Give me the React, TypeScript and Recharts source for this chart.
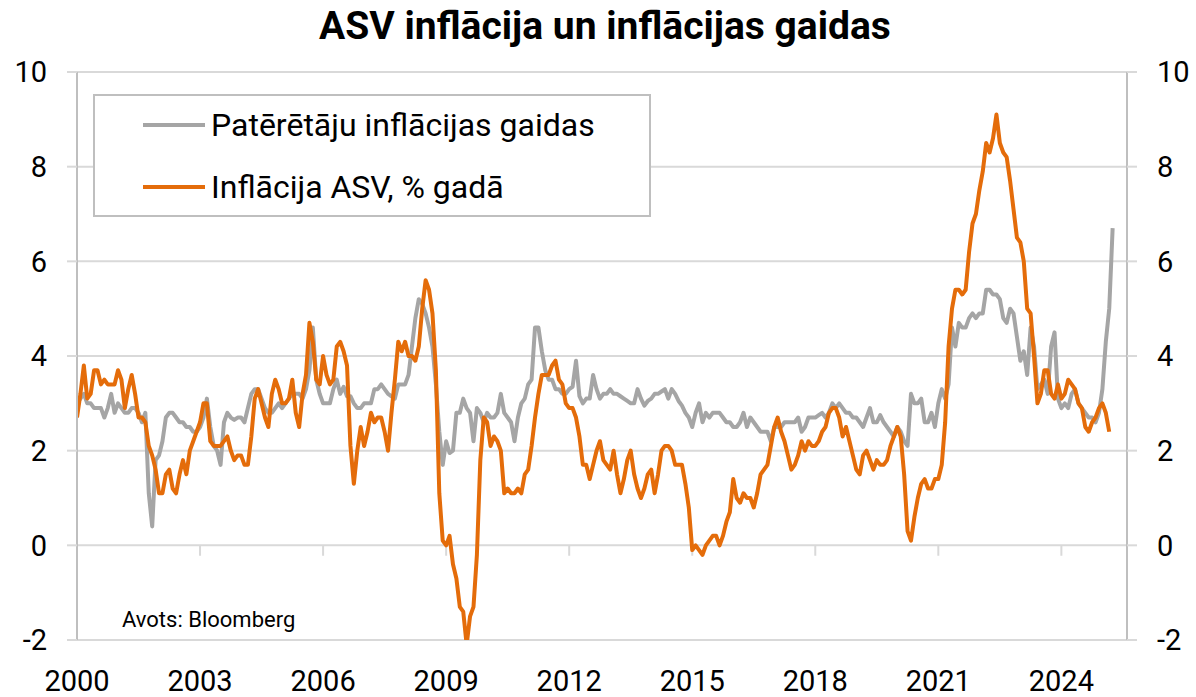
import React from "react"
import { LineChart, Line, XAxis, YAxis, CartesianGrid, ReferenceLine } from "recharts"

// monthly, starting Jan 2000
const START_YEAR = 2000

// Patērētāju inflācijas gaidas (1 gads), %
const expectations = [
  3.0, 3.1, 3.2, 3.0, 3.0, 2.9, 2.9, 2.9, 2.7, 2.9, 3.2, 2.8, // 2000
  3.0, 2.9, 2.8, 2.8, 2.9, 2.9, 2.8, 2.6, 2.8, 1.1, 0.4, 1.8, // 2001
  1.9, 2.2, 2.7, 2.8, 2.8, 2.7, 2.6, 2.6, 2.5, 2.5, 2.4, 2.4, // 2002
  2.5, 2.7, 3.1, 2.5, 2.1, 2.0, 1.7, 2.6, 2.8, 2.7, 2.65, 2.7, // 2003
  2.7, 2.6, 2.9, 3.2, 3.3, 3.3, 3.1, 2.9, 2.8, 2.8, 2.9, 3.0, // 2004
  2.9, 3.0, 3.1, 3.2, 3.2, 3.2, 3.1, 3.3, 3.7, 4.6, 3.5, 3.2, // 2005
  3.0, 3.0, 3.0, 3.3, 3.5, 3.2, 3.35, 3.15, 3.15, 3.0, 2.9, 2.9, // 2006
  3.0, 3.0, 3.0, 3.3, 3.3, 3.4, 3.3, 3.2, 3.15, 3.1, 3.4, 3.4, // 2007
  3.4, 3.6, 4.2, 4.8, 5.2, 5.1, 4.9, 4.6, 4.2, 3.4, 2.4, 1.7, // 2008
  2.2, 1.95, 2.0, 2.8, 2.8, 3.1, 2.9, 2.8, 2.2, 2.9, 2.8, 2.6, // 2009
  2.8, 2.7, 2.7, 2.8, 3.2, 2.8, 2.7, 2.6, 2.2, 2.7, 3.0, 3.1, // 2010
  3.4, 3.5, 4.6, 4.6, 4.1, 3.7, 3.5, 3.5, 3.3, 3.3, 3.2, 3.2, // 2011
  3.3, 3.35, 3.9, 3.15, 3.0, 3.1, 3.1, 3.6, 3.3, 3.1, 3.2, 3.2, // 2012
  3.3, 3.2, 3.2, 3.15, 3.1, 3.05, 3.0, 3.0, 3.3, 3.1, 2.95, 3.05, // 2013
  3.1, 3.2, 3.2, 3.25, 3.3, 3.1, 3.3, 3.2, 3.05, 2.95, 2.8, 2.7, // 2014
  2.5, 2.8, 3.0, 2.6, 2.8, 2.7, 2.8, 2.8, 2.8, 2.7, 2.6, 2.6, // 2015
  2.5, 2.5, 2.6, 2.8, 2.5, 2.7, 2.6, 2.5, 2.4, 2.4, 2.4, 2.2, // 2016
  2.5, 2.5, 2.5, 2.6, 2.6, 2.6, 2.6, 2.7, 2.4, 2.5, 2.7, 2.7, // 2017
  2.7, 2.75, 2.8, 2.7, 2.8, 3.0, 2.9, 3.0, 2.9, 2.8, 2.8, 2.7, // 2018
  2.7, 2.6, 2.5, 2.7, 2.9, 2.6, 2.6, 2.75, 2.6, 2.5, 2.4, 2.3, // 2019
  2.5, 2.4, 2.2, 2.1, 3.2, 3.0, 3.0, 3.1, 2.6, 2.6, 2.8, 2.5, // 2020
  3.0, 3.3, 3.1, 3.4, 4.6, 4.2, 4.7, 4.6, 4.6, 4.8, 4.9, 4.8, // 2021
  4.9, 4.9, 5.4, 5.4, 5.3, 5.3, 5.2, 4.8, 4.7, 5.0, 4.9, 4.4, // 2022
  3.9, 4.1, 3.6, 4.6, 4.2, 3.3, 3.4, 3.5, 3.2, 4.2, 4.5, 3.1, // 2023
  2.9, 3.0, 2.9, 3.2, 3.3, 3.0, 2.9, 2.8, 2.7, 2.7, 2.6, 2.8, // 2024
  3.3, 4.3, 5.0, 6.7, // 2025
]

// Inflācija ASV, % gadā
const cpi = [
  2.7, 3.2, 3.8, 3.1, 3.2, 3.7, 3.7, 3.4, 3.5, 3.4, 3.4, 3.4, // 2000
  3.7, 3.5, 2.9, 3.3, 3.6, 3.2, 2.7, 2.7, 2.6, 2.1, 1.9, 1.6, // 2001
  1.1, 1.1, 1.5, 1.6, 1.2, 1.1, 1.5, 1.8, 1.5, 2.0, 2.2, 2.4, // 2002
  2.6, 3.0, 3.0, 2.2, 2.1, 2.1, 2.1, 2.2, 2.3, 2.0, 1.8, 1.9, // 2003
  1.9, 1.7, 1.7, 2.3, 3.1, 3.3, 3.0, 2.7, 2.5, 3.2, 3.5, 3.3, // 2004
  3.0, 3.0, 3.1, 3.5, 2.8, 2.5, 3.2, 3.6, 4.7, 4.3, 3.5, 3.4, // 2005
  4.0, 3.6, 3.4, 3.5, 4.2, 4.3, 4.1, 3.8, 2.1, 1.3, 2.0, 2.5, // 2006
  2.1, 2.4, 2.8, 2.6, 2.7, 2.7, 2.4, 2.0, 2.8, 3.5, 4.3, 4.1, // 2007
  4.3, 4.0, 4.0, 3.9, 4.2, 5.0, 5.6, 5.4, 4.9, 3.7, 1.1, 0.1, // 2008
  0.0, 0.2, -0.4, -0.7, -1.3, -1.4, -2.1, -1.5, -1.3, -0.2, 1.8, 2.7, // 2009
  2.6, 2.1, 2.3, 2.2, 2.0, 1.1, 1.2, 1.1, 1.1, 1.2, 1.1, 1.5, // 2010
  1.6, 2.1, 2.7, 3.2, 3.6, 3.6, 3.6, 3.8, 3.9, 3.5, 3.4, 3.0, // 2011
  2.9, 2.9, 2.7, 2.3, 1.7, 1.7, 1.4, 1.7, 2.0, 2.2, 1.8, 1.7, // 2012
  1.6, 2.0, 1.5, 1.1, 1.4, 1.8, 2.0, 1.5, 1.2, 1.0, 1.2, 1.5, // 2013
  1.6, 1.1, 1.5, 2.0, 2.1, 2.1, 2.0, 1.7, 1.7, 1.7, 1.3, 0.8, // 2014
  -0.1, 0.0, -0.1, -0.2, 0.0, 0.1, 0.2, 0.2, 0.0, 0.2, 0.5, 0.7, // 2015
  1.4, 1.0, 0.9, 1.1, 1.0, 1.0, 0.8, 1.1, 1.5, 1.6, 1.7, 2.1, // 2016
  2.5, 2.7, 2.4, 2.2, 1.9, 1.6, 1.7, 1.9, 2.2, 2.0, 2.2, 2.1, // 2017
  2.1, 2.2, 2.4, 2.5, 2.8, 2.9, 2.9, 2.7, 2.3, 2.5, 2.2, 1.9, // 2018
  1.6, 1.5, 1.9, 2.0, 1.8, 1.6, 1.8, 1.7, 1.7, 1.8, 2.1, 2.3, // 2019
  2.5, 2.3, 1.5, 0.3, 0.1, 0.6, 1.0, 1.3, 1.4, 1.2, 1.2, 1.4, // 2020
  1.4, 1.7, 2.6, 4.2, 5.0, 5.4, 5.4, 5.3, 5.4, 6.2, 6.8, 7.0, // 2021
  7.5, 7.9, 8.5, 8.3, 8.6, 9.1, 8.5, 8.3, 8.2, 7.7, 7.1, 6.5, // 2022
  6.4, 6.0, 5.0, 4.9, 4.0, 3.0, 3.2, 3.7, 3.7, 3.2, 3.1, 3.4, // 2023
  3.1, 3.2, 3.5, 3.4, 3.3, 3.0, 2.9, 2.5, 2.4, 2.6, 2.7, 2.9, // 2024
  3.0, 2.8, 2.4, // 2025
]

const xTicks = [2000, 2003, 2006, 2009, 2012, 2015, 2018, 2021, 2024]
const yTicks = [-2, 0, 2, 4, 6, 8, 10]

const GRAY = "#a5a5a5"
const ORANGE = "#e46c0a"
const GRID = "#d9d9d9"
const AXIS = "#bfbfbf"
const FONT = "Roboto, 'Noto Sans', sans-serif"

const series = [
  { key: "expectations", name: "Patērētāju inflācijas gaidas", color: GRAY },
  { key: "cpi", name: "Inflācija ASV, % gadā", color: ORANGE },
]

const rows = expectations.map((g, i) => ({
  t: START_YEAR + i / 12,
  expectations: g,
  cpi: i < cpi.length ? cpi[i] : null,
}))

const tickStyle = { fontSize: 29, fill: "#000", fontFamily: FONT }

export default function App() {
  return (
    <div style={{ position: "absolute", left: 0, top: 0, width: 1196, height: 697, background: "#fff", fontFamily: FONT }}>
      <LineChart width={1196} height={697} data={rows} margin={{ top: 72, right: 0, bottom: 0, left: 0 }}>
        <CartesianGrid vertical={false} stroke={GRID} strokeWidth={2} />
        <XAxis
          type="number"
          dataKey="t"
          domain={[2000, 2025.6]}
          ticks={xTicks}
          interval={0}
          allowDataOverflow
          axisLine={false}
          tickLine={false}
          tickSize={0}
          tickMargin={30}
          height={57}
          tick={tickStyle}
        />
        <YAxis
          domain={[-2, 10]}
          ticks={yTicks}
          allowDataOverflow
          width={77}
          axisLine={{ stroke: AXIS, strokeWidth: 2 }}
          tickLine={{ stroke: GRID, strokeWidth: 2 }}
          tickSize={10}
          tickMargin={20}
          tick={tickStyle}
        />
        <YAxis
          yAxisId="right"
          orientation="right"
          domain={[-2, 10]}
          ticks={yTicks}
          allowDataOverflow
          width={69}
          axisLine={{ stroke: AXIS, strokeWidth: 2 }}
          tickLine={{ stroke: GRID, strokeWidth: 2 }}
          tickSize={10}
          tickMargin={20}
          tick={tickStyle}
        />
        {xTicks.slice(1).map((yr) => (
          <ReferenceLine
            key={yr}
            segment={[{ x: yr, y: 0 }, { x: yr, y: -0.22 }]}
            stroke={GRID}
            strokeWidth={2}
          />
        ))}
        {series.map((s) => (
          <Line
            key={s.key}
            type="linear"
            dataKey={s.key}
            name={s.name}
            stroke={s.color}
            strokeWidth={4}
            strokeLinejoin="round"
            dot={false}
            activeDot={false}
            isAnimationActive={false}
          />
        ))}
      </LineChart>

      <div style={{ position: "absolute", left: 0, top: 7, width: 1210, textAlign: "center", fontSize: 39, fontWeight: 700, lineHeight: 1, color: "#000" }}>
        ASV inflācija un inflācijas gaidas
      </div>

      <div style={{ position: "absolute", left: 93, top: 94, width: 558, height: 123, boxSizing: "border-box", border: `2px solid ${AXIS}`, background: "#fff" }}>
        {series.map((s, i) => (
          <div key={s.key} style={{ position: "absolute", left: 48, top: 29 + i * 62 - 20, height: 40, display: "flex", alignItems: "center" }}>
            <div style={{ width: 62, height: 4, background: s.color, marginRight: 6 }} />
            <span style={{ fontSize: 32, lineHeight: 1, color: "#000", whiteSpace: "nowrap" }}>{s.name}</span>
          </div>
        ))}
      </div>

      <div style={{ position: "absolute", left: 122, top: 609, fontSize: 22, lineHeight: 1, color: "#000" }}>
        Avots: Bloomberg
      </div>
    </div>
  )
}
